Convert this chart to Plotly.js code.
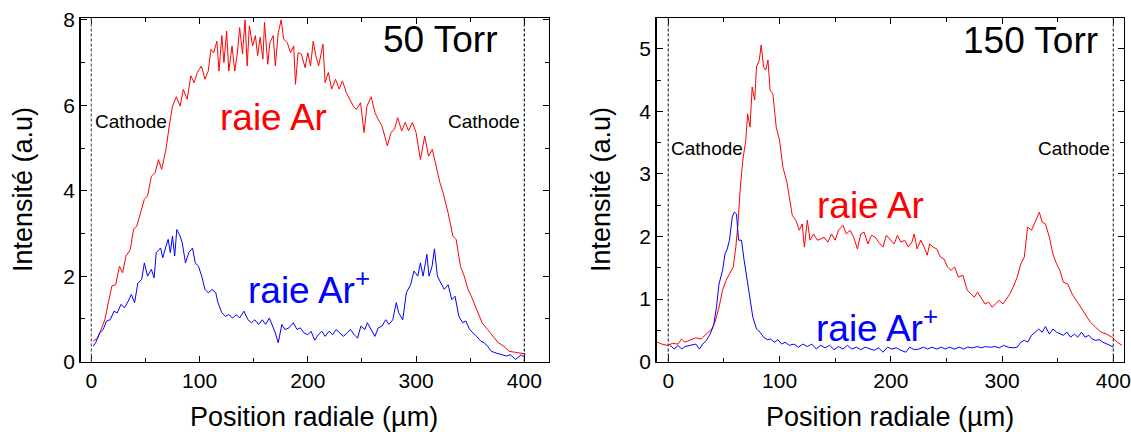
<!DOCTYPE html>
<html>
<head>
<meta charset="utf-8">
<script src="https://cdn.plot.ly/plotly-3.0.1.min.js"></script>
<style>html,body{margin:0;padding:0;background:#fff;}#chart{width:1131px;height:432px;}</style>
</head>
<body>
<div id="chart"></div>
<script>
// ---- 50 Torr : raie Ar (red) ----
const ar50X = [1.7,6,9,12.5,16,19,22.5,26,29,32,36,39,42,45.5,49,52,55.5,59,62,65,69,72,75,78.6,82,85,88.5,92,95,98,101.7,105,108,110.6,113,116,118,120.6,122.5,125,127,130,132.5,135,137,139.7,142,144,146,149,151.6,153.6,156,158.5,160,163,165,168,170,172.7,175.4,177.7,181,184,187,188.6,191,194,197.5,200,202.5,205,207.4,210,214,216,219,222,225.6,229,232,235.5,239,242,245,248.7,252,254.6,258.6,262,265,268.5,273.5,276.8,280,283,286.7,290,293,296.6,300,304,308,311.5,315,318.7,322,325,329.6,334,337,341,344.5,348,351,356,361,366,371,376,381,386,391,396,401];
const ar50Y = [0.48,0.55,0.75,0.98,1.41,1.77,1.8,2.23,2.08,2.47,2.62,3.1,3.17,3.48,3.8,3.88,4.34,4.42,4.73,4.5,4.97,5.52,5.98,6.2,5.98,6.37,6.14,6.69,6.53,6.77,6.92,6.61,6.8,7.31,7.23,7.5,6.8,7.63,7.0,7.74,6.8,7.39,6.8,7.23,7.82,7.2,8.0,6.92,7.86,7.39,7.63,7.16,7.59,7.08,7.94,6.96,7.47,7.63,6.92,7.7,8.0,7.55,7.47,7.23,7.39,6.49,7.23,7.2,6.88,7.23,6.92,7.5,7.16,6.92,7.43,6.53,6.77,6.38,6.61,6.38,6.57,6.3,6.14,5.98,5.9,6.06,5.36,5.98,6.2,5.83,5.67,5.52,5.05,5.36,5.44,5.71,5.4,5.6,5.4,5.6,5.36,4.73,5.28,4.81,4.97,4.58,4.19,3.95,3.48,2.94,2.86,2.23,2.0,1.69,1.53,1.22,0.91,0.75,0.59,0.44,0.36,0.24,0.22,0.2,0.18];
// ---- 50 Torr : raie Ar+ (blue) ----
const arp50X = [1.7,4,7.6,11,14,17.5,21,24,27.4,30.7,34,37,40,43,46.5,49,52,55.5,58,60,64,66,69,71,73,75,77,79,82,84,87,90,93.5,96,99,102,105,108,111.6,115,117,120.6,124,127,130.5,134,137,141,144.7,148,151,154.6,158,161,164.5,168,170,172.7,176,179,182.6,186.6,190,193,196.5,200,203,206.4,209.7,213,216,219.6,223,226,229.6,233,236,239.5,242.8,246,249,252.7,255,258.6,262,265,268.5,272,275,278.5,281.7,284,287.7,291,295,298,301.6,304,306.5,310,312,314.8,317,319.7,323,326,329.6,333,336,339.5,343,346,349.5,353,356,359.6,363,366,369.6,374,379,383.6,387,392,397,400.6];
const arp50Y = [0.36,0.44,0.67,0.75,0.95,0.98,1.18,1.14,1.34,1.26,1.41,1.57,1.38,1.84,1.92,2.31,2.0,2.16,1.96,2.55,2.66,2.43,2.7,2.86,2.55,2.94,2.47,3.09,2.94,2.78,2.31,2.55,2.66,2.31,2.23,2.0,1.69,1.61,1.69,1.61,1.38,1.14,1.06,1.1,1.02,1.1,1.02,1.18,0.98,0.91,0.98,0.87,0.98,0.87,1.02,0.79,0.67,0.44,0.87,0.75,0.79,0.91,0.75,0.79,0.67,0.63,0.71,0.5,0.63,0.71,0.59,0.71,0.63,0.75,0.67,0.59,0.67,0.75,0.63,0.55,0.83,0.75,0.91,0.75,0.59,0.79,0.83,0.98,0.87,0.98,1.38,1.14,0.98,1.61,1.8,2.12,2.0,2.31,2.0,2.51,2.0,2.23,2.64,2.0,1.84,1.69,1.8,1.45,1.53,1.06,0.91,0.95,0.75,0.67,0.59,0.48,0.44,0.36,0.24,0.2,0.16,0.13,0.16,0.05,0.16,0.09];
// ---- 150 Torr : raie Ar (red) ----
const ar150X = [-10,-5.8,-1,3.9,8.7,12,15,20,24.7,29.5,34.3,39,42,45.6,48.8,52,55,58.4,60.7,62.6,64.8,67,69.7,71.3,73.5,75.4,77.7,79.3,81.8,83.5,85.7,87.6,89.6,91.5,94,97,100,103,106.6,108.8,111.4,114.6,117.8,120.4,122.3,125,127.4,130.6,134,137,140,143.5,146.7,150,153,157,160,163.4,166.6,170,173,176,179.5,182.6,186,189,193,196,199.7,203,206,209,212.5,215.7,219,221,223.7,227,230,232.7,235,238,241.4,244.6,247.8,251,254,257.4,260.7,264.8,268.7,272,275,278,281.5,284.7,288,291,294,297.6,300.8,304,307,310,313.6,316.8,320,323,326.5,329.7,333.5,336,339,342.5,345.7,349,352,355,359,363,366.6,370,374.6,379.4,384,389,394,398.7,403.5,408];
const ar150Y = [0.31,0.28,0.26,0.29,0.28,0.36,0.31,0.34,0.38,0.36,0.44,0.52,0.63,0.87,1.14,1.3,1.4,1.51,1.83,2.2,2.79,3.22,3.54,3.96,3.75,4.39,4.18,4.71,4.82,5.06,4.71,4.66,4.82,4.34,4.28,3.75,3.54,3.11,2.87,2.63,2.34,2.26,2.1,2.2,1.83,2.26,1.94,2.04,1.94,1.96,1.99,1.91,2.04,1.94,2.1,2.18,2.04,2.1,1.99,1.8,2.04,2.07,1.88,2.02,1.99,1.91,1.83,2.02,1.94,1.88,2.02,1.91,1.94,1.83,1.91,2.04,1.8,1.94,1.83,1.7,1.88,1.83,1.8,1.67,1.64,1.51,1.46,1.51,1.35,1.38,1.14,1.08,1.03,1.11,1.0,0.92,0.95,0.87,0.92,0.98,0.92,1.0,1.08,1.19,1.35,1.56,1.67,2.15,2.1,2.23,2.39,2.23,2.2,1.99,1.72,1.56,1.46,1.27,1.24,1.08,0.98,0.9,0.76,0.63,0.55,0.47,0.44,0.39,0.31,0.26];
// ---- 150 Torr : raie Ar+ (blue) ----
const arp150X = [1.6,5.5,8.7,12,15,20,24.7,28,31,34.3,37.6,40.8,43.3,45.6,48.8,51,53,55,57.5,59.4,61.3,63.2,65.8,68,70.3,72.9,76,79.3,82.5,85.7,89,92,95.3,98.5,101.8,105,108.8,113,117,121,125,129,133,137,141,145,149,153,157,161,165,169,173,177,181,185,189,193,197,201,205,209,213.5,217,221,225,229.5,233,237,241,245.6,249,253,257,261.6,265.5,269,273.5,277.7,281.5,285,289.5,293.7,297.6,301.4,305.6,309.8,313.6,316.8,320,323,326.5,329.7,333,336,339,342.5,345.7,349,352,355,358.4,361.6,365,368,371.4,374.6,378,381,384,387.4,390.6,394,397,400];
const arp150Y = [0.26,0.2,0.26,0.2,0.24,0.26,0.28,0.2,0.28,0.34,0.44,0.58,0.87,1.24,1.46,1.72,1.8,1.94,2.31,2.39,2.36,1.94,1.94,1.64,1.35,1.08,0.71,0.52,0.47,0.39,0.35,0.36,0.31,0.35,0.28,0.31,0.26,0.28,0.23,0.28,0.24,0.28,0.2,0.26,0.22,0.26,0.19,0.24,0.2,0.26,0.2,0.23,0.19,0.23,0.2,0.18,0.22,0.15,0.23,0.2,0.22,0.18,0.15,0.23,0.19,0.2,0.23,0.2,0.23,0.2,0.23,0.2,0.23,0.2,0.23,0.2,0.23,0.22,0.24,0.22,0.24,0.23,0.24,0.22,0.26,0.23,0.22,0.23,0.31,0.34,0.31,0.42,0.47,0.52,0.47,0.56,0.44,0.52,0.47,0.44,0.42,0.47,0.39,0.44,0.39,0.47,0.39,0.42,0.36,0.34,0.35,0.31,0.29,0.26,0.23];

const panelLabels = ["50 Torr", "150 Torr"];
const lineLabels = ["raie Ar", "raie Ar<sup>+</sup>"];
const cathodeLabel = "Cathode";
const xTitle = "Position radiale (µm)";
const yTitle = "Intensité (a.u)";

const FONT = "Liberation Sans, Arial, Helvetica, sans-serif";
const RED = "#ff0000", BLUE = "#0000ff";

const traces = [
  {x: ar50X, y: ar50Y, xaxis: "x", yaxis: "y", mode: "lines", line: {color: RED, width: 1}},
  {x: arp50X, y: arp50Y, xaxis: "x", yaxis: "y", mode: "lines", line: {color: BLUE, width: 1}},
  {x: ar150X, y: ar150Y, xaxis: "x2", yaxis: "y2", mode: "lines", line: {color: RED, width: 1}},
  {x: arp150X, y: arp150Y, xaxis: "x2", yaxis: "y2", mode: "lines", line: {color: BLUE, width: 1}}
];

function axisBase(extra) {
  return Object.assign({
    showline: true, linecolor: "#000", linewidth: 1.5, mirror: "ticks",
    ticks: "inside", ticklen: 6, tickwidth: 1, tickcolor: "#000",
    showgrid: false, zeroline: false,
    tickfont: {family: FONT, size: 21, color: "#000"},
    fixedrange: true
  }, extra);
}

const yDom = [0.163, 0.958];
const layout = {
  width: 1131, height: 432,
  margin: {l: 0, r: 0, t: 0, b: 0},
  paper_bgcolor: "#fff", plot_bgcolor: "#fff",
  showlegend: false,
  font: {family: FONT, color: "#000"},
  xaxis: axisBase({domain: [0.07135, 0.48541], range: [-9.8, 422.8], dtick: 100, tick0: 0,
    minor: {ticks: "inside", ticklen: 4, dtick: 50, tick0: 0, tickcolor: "#000"}, anchor: "y"}),
  yaxis: axisBase({domain: yDom, range: [0, 8.04], dtick: 2, tick0: 0,
    minor: {ticks: "inside", ticklen: 4, dtick: 1, tick0: 0, tickcolor: "#000"}, anchor: "x"}),
  xaxis2: axisBase({domain: [0.58064, 0.99381], range: [-10.4, 409.6], dtick: 100, tick0: 0,
    minor: {ticks: "inside", ticklen: 4, dtick: 50, tick0: 0, tickcolor: "#000"}, anchor: "y2"}),
  yaxis2: axisBase({domain: yDom, range: [0, 5.49], dtick: 1, tick0: 0,
    minor: {ticks: "inside", ticklen: 4, dtick: 0.5, tick0: 0, tickcolor: "#000"}, anchor: "x2"}),
  shapes: [
    {type: "line", xref: "x", yref: "paper", x0: 0, x1: 0, y0: yDom[0], y1: yDom[1], line: {color: "#555", width: 1.2, dash: "3px,2px"}},
    {type: "line", xref: "x", yref: "paper", x0: 400, x1: 400, y0: yDom[0], y1: yDom[1], line: {color: "#111", width: 1.2, dash: "3px,2px"}},
    {type: "line", xref: "x2", yref: "paper", x0: 0, x1: 0, y0: yDom[0], y1: yDom[1], line: {color: "#333", width: 1.2, dash: "3px,2px"}},
    {type: "line", xref: "x2", yref: "paper", x0: 400, x1: 400, y0: yDom[0], y1: yDom[1], line: {color: "#333", width: 1.2, dash: "3px,2px"}}
  ],
  annotations: [
    {xref: "x", yref: "y", x: 322.6, y: 7.53, text: panelLabels[0], showarrow: false, xanchor: "center", yanchor: "middle", font: {family: FONT, size: 37, color: "#000"}},
    {xref: "x2", yref: "y2", x: 325.5, y: 5.14, text: panelLabels[1], showarrow: false, xanchor: "center", yanchor: "middle", font: {family: FONT, size: 37, color: "#000"}},
    {xref: "x", yref: "y", x: 117.3, y: 5.71, text: lineLabels[0], showarrow: false, xanchor: "left", yanchor: "middle", font: {family: FONT, size: 37, color: RED}},
    {xref: "x", yref: "y", x: 143, y: 1.73, text: lineLabels[1], showarrow: false, xanchor: "left", yanchor: "middle", font: {family: FONT, size: 37, color: BLUE}},
    {xref: "x2", yref: "y2", x: 131.6, y: 2.5, text: lineLabels[0], showarrow: false, xanchor: "left", yanchor: "middle", font: {family: FONT, size: 37, color: RED}},
    {xref: "x2", yref: "y2", x: 130.7, y: 0.58, text: lineLabels[1], showarrow: false, xanchor: "left", yanchor: "middle", font: {family: FONT, size: 37, color: BLUE}},
    {xref: "x", yref: "y", x: 1.5, y: 5.63, text: cathodeLabel, showarrow: false, xanchor: "left", yanchor: "middle", font: {family: FONT, size: 19, color: "#000"}},
    {xref: "x", yref: "y", x: 398, y: 5.63, text: cathodeLabel, showarrow: false, xanchor: "right", yanchor: "middle", font: {family: FONT, size: 19, color: "#000"}},
    {xref: "x2", yref: "y2", x: 0.5, y: 3.40, text: cathodeLabel, showarrow: false, xanchor: "left", yanchor: "middle", font: {family: FONT, size: 19, color: "#000"}},
    {xref: "x2", yref: "y2", x: 399, y: 3.40, text: cathodeLabel, showarrow: false, xanchor: "right", yanchor: "middle", font: {family: FONT, size: 19, color: "#000"}},
    {xref: "paper", yref: "paper", x: 314 / 1131, y: (432 - 417) / 432, text: xTitle, showarrow: false, xanchor: "center", yanchor: "middle", font: {family: FONT, size: 27, color: "#000"}},
    {xref: "paper", yref: "paper", x: 890 / 1131, y: (432 - 417) / 432, text: xTitle, showarrow: false, xanchor: "center", yanchor: "middle", font: {family: FONT, size: 27, color: "#000"}},
    {xref: "paper", yref: "paper", x: 23 / 1131, y: (432 - 190) / 432, text: yTitle, showarrow: false, textangle: -90, xanchor: "center", yanchor: "middle", font: {family: FONT, size: 27, color: "#000"}},
    {xref: "paper", yref: "paper", x: 601 / 1131, y: (432 - 190) / 432, text: yTitle, showarrow: false, textangle: -90, xanchor: "center", yanchor: "middle", font: {family: FONT, size: 27, color: "#000"}}
  ]
};

Plotly.newPlot("chart", traces, layout, {staticPlot: true, displayModeBar: false});
</script>
</body>
</html>
